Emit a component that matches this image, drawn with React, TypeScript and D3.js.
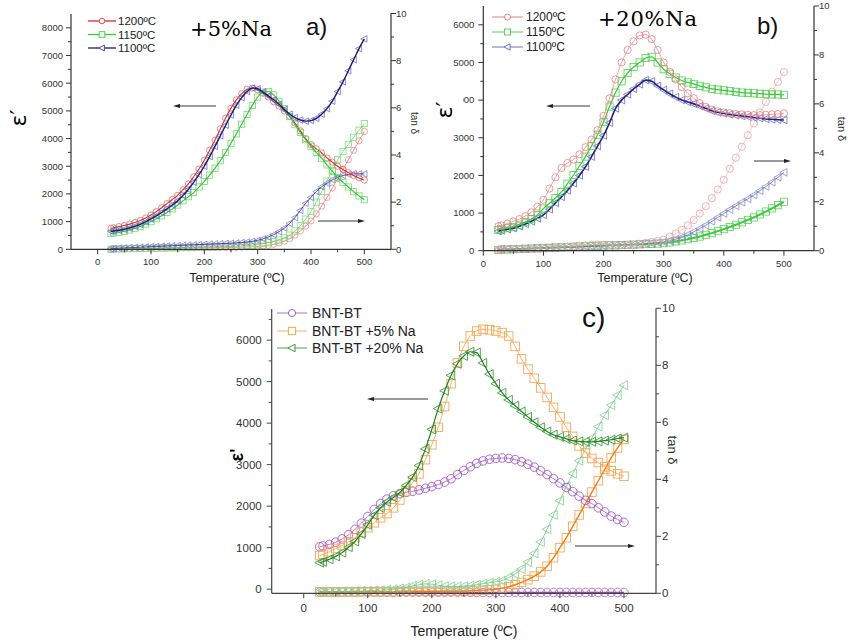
import React from "react";
import * as d3 from "d3";

// ---------- data ----------
const TEMPS = [25, 30, 40, 50, 60, 70, 80, 90, 100, 110, 120, 130, 140, 150, 160, 170, 180, 190, 200, 210, 220, 230, 240, 250, 260, 270, 280, 290, 300, 310, 320, 330, 340, 350, 360, 370, 380, 390, 400, 410, 420, 430, 440, 450, 460, 470, 480, 490, 500];

// panel a (+5% Na)
const A_EPS_1200 = [760, 780, 820, 860, 910, 970, 1040, 1130, 1240, 1360, 1500, 1650, 1800, 1950, 2150, 2360, 2620, 2900, 3220, 3580, 3950, 4350, 4740, 5100, 5400, 5620, 5780, 5820, 5760, 5640, 5500, 5330, 5170, 5000, 4800, 4560, 4280, 4000, 3780, 3630, 3480, 3300, 3150, 3000, 2880, 2770, 2670, 2580, 2500];
const A_EPS_1150 = [580, 590, 620, 650, 700, 760, 830, 910, 1000, 1100, 1210, 1330, 1460, 1600, 1750, 1900, 2050, 2250, 2450, 2680, 2930, 3200, 3500, 3830, 4170, 4520, 4870, 5200, 5500, 5680, 5700, 5580, 5350, 5080, 4800, 4500, 4220, 3960, 3720, 3500, 3290, 3050, 2820, 2600, 2420, 2250, 2080, 1930, 1790];
const A_EPS_1100 = [650, 660, 690, 720, 770, 830, 900, 990, 1100, 1210, 1330, 1460, 1600, 1750, 1940, 2160, 2420, 2700, 3000, 3350, 3720, 4100, 4480, 4850, 5200, 5480, 5700, 5830, 5800, 5680, 5540, 5400, 5240, 5050, 4880, 4760, 4670, 4630, 4650, 4730, 4880, 5080, 5350, 5700, 6050, 6450, 6850, 7250, 7600];
const A_TAN_1200 = [0.0, 0.01, 0.01, 0.02, 0.02, 0.03, 0.03, 0.03, 0.04, 0.04, 0.04, 0.05, 0.05, 0.05, 0.06, 0.06, 0.06, 0.07, 0.07, 0.07, 0.07, 0.08, 0.08, 0.08, 0.08, 0.09, 0.1, 0.11, 0.12, 0.14, 0.17, 0.21, 0.27, 0.35, 0.45, 0.6, 0.78, 0.98, 1.2, 1.5, 1.83, 2.2, 2.6, 3.0, 3.4, 3.8, 4.2, 4.6, 5.0];
const A_TAN_1150 = [0.0, 0.01, 0.02, 0.02, 0.03, 0.03, 0.04, 0.04, 0.05, 0.05, 0.06, 0.06, 0.07, 0.07, 0.08, 0.08, 0.09, 0.09, 0.1, 0.1, 0.11, 0.11, 0.12, 0.12, 0.13, 0.14, 0.16, 0.18, 0.2, 0.24, 0.28, 0.33, 0.4, 0.48, 0.6, 0.78, 1.0, 1.28, 1.6, 2.0, 2.45, 2.9, 3.35, 3.8, 4.15, 4.45, 4.75, 5.05, 5.33];
const A_TAN_1100 = [0.02, 0.03, 0.05, 0.06, 0.07, 0.08, 0.09, 0.1, 0.11, 0.12, 0.13, 0.14, 0.15, 0.16, 0.17, 0.18, 0.19, 0.2, 0.21, 0.22, 0.23, 0.24, 0.25, 0.26, 0.27, 0.29, 0.31, 0.34, 0.38, 0.44, 0.52, 0.62, 0.75, 0.9, 1.1, 1.35, 1.65, 1.95, 2.2, 2.45, 2.65, 2.8, 2.95, 3.05, 3.13, 3.18, 3.2, 3.2, 3.2];

// panel b (+20% Na)
const B_EPS_1200 = [650, 670, 720, 780, 840, 920, 1020, 1170, 1350, 1650, 1950, 2200, 2330, 2420, 2560, 2750, 2950, 3200, 3580, 4050, 4550, 5000, 5330, 5560, 5720, 5740, 5620, 5330, 5000, 4750, 4550, 4350, 4180, 4050, 3920, 3820, 3750, 3700, 3670, 3650, 3630, 3620, 3610, 3600, 3600, 3610, 3620, 3630, 3650];
const B_EPS_1150 = [550, 570, 600, 630, 690, 760, 840, 950, 1120, 1260, 1400, 1560, 1780, 2010, 2250, 2500, 2780, 3080, 3420, 3830, 4200, 4500, 4720, 4880, 5000, 5120, 5150, 5000, 4820, 4700, 4600, 4520, 4470, 4430, 4380, 4340, 4300, 4280, 4260, 4240, 4220, 4200, 4190, 4180, 4170, 4160, 4150, 4150, 4140];
const B_EPS_1100 = [520, 540, 570, 600, 650, 710, 780, 860, 950, 1100, 1270, 1430, 1600, 1790, 2000, 2230, 2500, 2780, 3060, 3400, 3780, 4000, 4150, 4300, 4420, 4530, 4500, 4380, 4270, 4170, 4080, 4000, 3950, 3900, 3840, 3780, 3720, 3680, 3650, 3620, 3600, 3580, 3560, 3540, 3520, 3500, 3490, 3480, 3470];
const B_TAN_1200 = [0.03, 0.04, 0.06, 0.07, 0.07, 0.08, 0.08, 0.09, 0.1, 0.11, 0.12, 0.14, 0.16, 0.18, 0.2, 0.22, 0.24, 0.25, 0.24, 0.23, 0.22, 0.22, 0.23, 0.25, 0.28, 0.32, 0.36, 0.4, 0.45, 0.57, 0.7, 0.85, 1.03, 1.25, 1.52, 1.82, 2.15, 2.5, 2.9, 3.35, 3.8, 4.25, 4.72, 5.2, 5.65, 6.08, 6.5, 6.9, 7.3];
const B_TAN_1150 = [0.03, 0.04, 0.05, 0.06, 0.07, 0.08, 0.09, 0.1, 0.11, 0.12, 0.13, 0.14, 0.15, 0.16, 0.17, 0.18, 0.19, 0.2, 0.21, 0.22, 0.22, 0.23, 0.24, 0.25, 0.26, 0.27, 0.28, 0.29, 0.31, 0.34, 0.38, 0.42, 0.47, 0.52, 0.58, 0.65, 0.72, 0.8, 0.88, 0.97, 1.06, 1.16, 1.26, 1.36, 1.48, 1.6, 1.73, 1.86, 2.0];
const B_TAN_1100 = [0.06, 0.06, 0.07, 0.07, 0.08, 0.08, 0.09, 0.09, 0.1, 0.11, 0.12, 0.13, 0.14, 0.15, 0.16, 0.17, 0.18, 0.19, 0.2, 0.21, 0.22, 0.23, 0.24, 0.25, 0.27, 0.29, 0.31, 0.33, 0.36, 0.41, 0.47, 0.55, 0.65, 0.77, 0.9, 1.04, 1.2, 1.36, 1.52, 1.68, 1.83, 1.98, 2.12, 2.28, 2.45, 2.62, 2.8, 3.0, 3.2];

// panel c (comparison)
const C_EPS_BNT = [1020, 1040, 1080, 1130, 1210, 1310, 1440, 1590, 1750, 1920, 2060, 2170, 2250, 2300, 2330, 2360, 2390, 2430, 2470, 2520, 2580, 2660, 2760, 2860, 2950, 3030, 3090, 3130, 3150, 3160, 3150, 3120, 3070, 3010, 2940, 2850, 2760, 2660, 2560, 2450, 2350, 2240, 2140, 2060, 1960, 1860, 1760, 1680, 1610];
const C_EPS_5NA = [810, 840, 900, 980, 1050, 1140, 1240, 1370, 1480, 1600, 1720, 1820, 1960, 2150, 2370, 2560, 2780, 3120, 3480, 3900, 4400, 4950, 5450, 5850, 6100, 6220, 6260, 6250, 6220, 6180, 6100, 5850, 5550, 5300, 5080, 4850, 4620, 4380, 4150, 3900, 3680, 3450, 3280, 3150, 3050, 2950, 2850, 2780, 2720];
const C_EPS_20NA = [640, 660, 720, 790, 880, 1010, 1150, 1330, 1550, 1780, 1960, 2100, 2210, 2330, 2500, 2700, 2980, 3380, 3850, 4350, 4780, 5150, 5430, 5620, 5720, 5700, 5450, 5180, 4950, 4730, 4560, 4420, 4280, 4150, 4020, 3900, 3800, 3720, 3670, 3620, 3580, 3560, 3550, 3550, 3560, 3580, 3600, 3630, 3650];
const C_TAN_BNT = [0.05, 0.05, 0.05, 0.05, 0.05, 0.05, 0.05, 0.05, 0.05, 0.04, 0.04, 0.04, 0.04, 0.04, 0.04, 0.04, 0.04, 0.04, 0.04, 0.04, 0.04, 0.04, 0.04, 0.04, 0.03, 0.03, 0.03, 0.03, 0.03, 0.03, 0.03, 0.03, 0.03, 0.03, 0.03, 0.03, 0.03, 0.03, 0.03, 0.03, 0.03, 0.03, 0.03, 0.03, 0.03, 0.03, 0.03, 0.03, 0.03];
const C_TAN_5NA = [0.05, 0.05, 0.05, 0.05, 0.05, 0.05, 0.05, 0.06, 0.06, 0.06, 0.06, 0.06, 0.06, 0.07, 0.07, 0.07, 0.07, 0.07, 0.07, 0.07, 0.08, 0.08, 0.08, 0.08, 0.09, 0.1, 0.11, 0.12, 0.14, 0.18, 0.23, 0.3, 0.38, 0.48, 0.6, 0.75, 0.95, 1.25, 1.6, 1.95, 2.35, 2.75, 3.15, 3.55, 3.95, 4.35, 4.75, 5.1, 5.4];
const C_TAN_20NA = [0.05, 0.05, 0.06, 0.06, 0.07, 0.07, 0.08, 0.08, 0.09, 0.1, 0.11, 0.12, 0.14, 0.17, 0.2, 0.26, 0.3, 0.33, 0.32, 0.28, 0.25, 0.24, 0.24, 0.25, 0.27, 0.3, 0.34, 0.37, 0.4, 0.45, 0.55, 0.68, 0.85, 1.1, 1.4, 1.8, 2.25, 2.75, 3.25, 3.75, 4.2, 4.65, 5.05, 5.45, 5.85, 6.25, 6.6, 6.95, 7.3];

// ticks and labels
const X_TICKS = [0, 100, 200, 300, 400, 500];
const A_EPS_TICKS = [0, 1000, 2000, 3000, 4000, 5000, 6000, 7000, 8000];
const B_EPS_TICKS = [0, 1000, 2000, 3000, 4000, 5000, 6000];
const C_EPS_TICKS = [0, 1000, 2000, 3000, 4000, 5000, 6000];
const TAN_TICKS = [0, 2, 4, 6, 8, 10];
const AB_LEGEND = ["1200ºC", "1150ºC", "1100ºC"];
const C_LEGEND = ["BNT-BT", "BNT-BT +5% Na", "BNT-BT +20% Na"];
const X_TITLE = "Temperature (ºC)";

type Shape = "circle" | "square" | "tri";
type Ser = { v: number[]; axis: "L" | "R"; shape: Shape; mk: string; ln: string; lw: number };

const SANS = "'Liberation Sans', Arial, sans-serif";

function Marker(p: { shape: Shape; x: number; y: number; s: number; stroke: string; fill: string; sw: number }) {
  const { shape, x, y, s, stroke, fill, sw } = p;
  if (shape === "circle") return <circle cx={x} cy={y} r={s} fill={fill} stroke={stroke} strokeWidth={sw} />;
  if (shape === "square") return <rect x={x - s} y={y - s} width={2 * s} height={2 * s} fill={fill} stroke={stroke} strokeWidth={sw} />;
  return <polygon points={`${x - s * 1.15},${y} ${x + s * 0.85},${y - s * 1.05} ${x + s * 0.85},${y + s * 1.05}`} fill={fill} stroke={stroke} strokeWidth={sw} />;
}

type Cfg = {
  left: number; right: number; bottom: number; top: number; topR: number; bottomR: number;
  xDom: [number, number]; yDom: [number, number]; yTicks: number[];
  tickFont: number; axisColor: string; ms: number; msw: number;
  series: Ser[];
  xLabelDy: number; yLabelDx: number; rLabelDx: number;
};

function Panel({ c }: { c: Cfg }) {
  const x = d3.scaleLinear().domain(c.xDom).range([c.left, c.right]);
  const yL = d3.scaleLinear().domain(c.yDom).range([c.bottom, c.top]);
  const yR = d3.scaleLinear().domain([0, 10]).range([c.bottomR, c.topR]);
  const xMinor = d3.range(X_TICKS[0] - 50, X_TICKS[X_TICKS.length - 1] + 51, 100).filter((t) => t > c.xDom[0] && t < c.xDom[1]);
  const yStep = c.yTicks[1] - c.yTicks[0];
  const yMinor = c.yTicks.map((t) => t + yStep / 2).filter((t) => t < c.yDom[1]);
  const rMinor = TAN_TICKS.slice(0, -1).map((t) => t + 1);
  const line = (ys: d3.ScaleLinear<number, number>) =>
    d3.line<number>().x((_, i) => x(TEMPS[i])).y((d) => ys(d)).curve(d3.curveMonotoneX);
  const ax = c.axisColor;
  return (
    <g>
      {c.series.map((s, k) => {
        const ys = s.axis === "L" ? yL : yR;
        return (
          <g key={k}>
            {s.v.map((d, i) => (
              <Marker key={i} shape={s.shape} x={x(TEMPS[i])} y={ys(d)} s={c.ms} stroke={s.mk} fill="none" sw={c.msw} />
            ))}
            <path d={line(ys)(s.v) || ""} fill="none" stroke={s.ln} strokeWidth={s.lw} />
          </g>
        );
      })}
      {/* axes */}
      <line x1={c.left} x2={c.right} y1={c.bottom} y2={c.bottom} stroke={ax} strokeWidth={1.2} />
      <line x1={c.left} x2={c.left} y1={c.bottom} y2={c.top} stroke={ax} strokeWidth={1.2} />
      <line x1={c.right} x2={c.right} y1={c.bottomR} y2={c.topR} stroke={ax} strokeWidth={1.2} />
      {X_TICKS.map((t) => (
        <g key={"x" + t}>
          <line x1={x(t)} x2={x(t)} y1={c.bottom} y2={c.bottom + 5} stroke={ax} />
          <text x={x(t)} y={c.bottom + c.xLabelDy} fontSize={c.tickFont} fontFamily={SANS} fill="#333" textAnchor="middle">{t}</text>
        </g>
      ))}
      {xMinor.map((t) => (
        <line key={"xm" + t} x1={x(t)} x2={x(t)} y1={c.bottom} y2={c.bottom + 3} stroke={ax} />
      ))}
      {c.yTicks.map((t) => (
        <g key={"y" + t}>
          <line x1={c.left - 5} x2={c.left} y1={yL(t)} y2={yL(t)} stroke={ax} />
          <text x={c.left - c.yLabelDx} y={yL(t)} dy="0.35em" fontSize={c.tickFont} fontFamily={SANS} fill="#333" textAnchor="end">{t}</text>
        </g>
      ))}
      {yMinor.map((t) => (
        <line key={"ym" + t} x1={c.left - 3} x2={c.left} y1={yL(t)} y2={yL(t)} stroke={ax} />
      ))}
      {TAN_TICKS.map((t) => (
        <g key={"r" + t}>
          <line x1={c.right} x2={c.right + 5} y1={yR(t)} y2={yR(t)} stroke={ax} />
          <text x={c.right + c.rLabelDx} y={yR(t)} dy="0.35em" fontSize={c.tickFont} fontFamily={SANS} fill="#333">{t}</text>
        </g>
      ))}
      {rMinor.map((t) => (
        <line key={"rm" + t} x1={c.right} x2={c.right + 3} y1={yR(t)} y2={yR(t)} stroke={ax} />
      ))}
    </g>
  );
}

function Arrow({ x1, x2, y }: { x1: number; x2: number; y: number }) {
  const dir = x2 > x1 ? 1 : -1;
  return (
    <g>
      <line x1={x1} x2={x2 - dir * 5} y1={y} y2={y} stroke="#222" strokeWidth={0.9} />
      <polygon points={`${x2},${y} ${x2 - dir * 7},${y - 2} ${x2 - dir * 7},${y + 2}`} fill="#222" />
    </g>
  );
}

function Legend({ x0, x1, tx, rows, labels, shapes, mk, ln, s, font }: {
  x0: number; x1: number; tx: number; rows: number[]; labels: string[]; shapes: Shape[]; mk: string[]; ln: string[]; s: number; font: number;
}) {
  return (
    <g>
      {labels.map((lab, i) => (
        <g key={lab}>
          <line x1={x0} x2={x1} y1={rows[i]} y2={rows[i]} stroke={ln[i]} strokeWidth={1.3} />
          <Marker shape={shapes[i]} x={(x0 + x1) / 2} y={rows[i]} s={s} stroke={mk[i]} fill="#fff" sw={1} />
          <text x={tx} y={rows[i]} dy="0.36em" fontSize={font} fontFamily={SANS} fill="#222">{lab}</text>
        </g>
      ))}
    </g>
  );
}

export default function App() {
  const cfgA: Cfg = {
    left: 71, right: 391, bottom: 249.3, top: 14, topR: 13.5, bottomR: 249.3,
    xDom: [-50, 550], yDom: [0, 8500], yTicks: A_EPS_TICKS, tickFont: 9.5, axisColor: "#333",
    ms: 3.1, msw: 0.8, xLabelDy: 16, yLabelDx: 8, rLabelDx: 5,
    series: [
      { v: A_TAN_1200, axis: "R", shape: "circle", mk: "#ec8a8a", ln: "#e06a6a", lw: 0.7 },
      { v: A_TAN_1150, axis: "R", shape: "square", mk: "#80e080", ln: "#50d050", lw: 0.7 },
      { v: A_TAN_1100, axis: "R", shape: "tri", mk: "#8080cc", ln: "#3a3a90", lw: 0.9 },
      { v: A_EPS_1200, axis: "L", shape: "circle", mk: "#e66a6a", ln: "#c83030", lw: 1.1 },
      { v: A_EPS_1150, axis: "L", shape: "square", mk: "#6fdc6f", ln: "#35c035", lw: 1.1 },
      { v: A_EPS_1100, axis: "L", shape: "tri", mk: "#6e6ec6", ln: "#1b1b6b", lw: 1.4 },
    ],
  };
  const cfgB: Cfg = {
    left: 483.3, right: 814, bottom: 250.7, top: 6, topR: 6, bottomR: 250.7,
    xDom: [0, 550], yDom: [0, 6500], yTicks: B_EPS_TICKS, tickFont: 9.5, axisColor: "#333",
    ms: 3.6, msw: 0.8, xLabelDy: 16, yLabelDx: 9, rLabelDx: 5,
    series: [
      { v: B_TAN_1150, axis: "R", shape: "square", mk: "#58d058", ln: "#3cc83c", lw: 2 },
      { v: B_TAN_1100, axis: "R", shape: "tri", mk: "#8a8acc", ln: "#6a6ab8", lw: 0.8 },
      { v: B_TAN_1200, axis: "R", shape: "circle", mk: "#eea0a0", ln: "#f0b0b0", lw: 0.6 },
      { v: B_EPS_1100, axis: "L", shape: "tri", mk: "#6a6abc", ln: "#1e1e86", lw: 1.6 },
      { v: B_EPS_1150, axis: "L", shape: "square", mk: "#52cf52", ln: "#3cc83c", lw: 1.2 },
      { v: B_EPS_1200, axis: "L", shape: "circle", mk: "#e37d7d", ln: "#e88a8a", lw: 0.8 },
    ],
  };
  const cfgC: Cfg = {
    left: 271.7, right: 656, bottom: 593.3, top: 309, topR: 308.3, bottomR: 593.3,
    xDom: [-50, 550], yDom: [-100, 6750], yTicks: C_EPS_TICKS, tickFont: 11.5, axisColor: "#444",
    ms: 4.3, msw: 0.9, xLabelDy: 19, yLabelDx: 10, rLabelDx: 6,
    series: [
      { v: C_TAN_BNT, axis: "R", shape: "circle", mk: "#b070d0", ln: "#9a4dbd", lw: 1.2 },
      { v: C_TAN_5NA, axis: "R", shape: "square", mk: "#f7a655", ln: "#f07d10", lw: 1.4 },
      { v: C_TAN_20NA, axis: "R", shape: "tri", mk: "#8ad69a", ln: "#70c880", lw: 0.8 },
      { v: C_EPS_BNT, axis: "L", shape: "circle", mk: "#a55ac8", ln: "#a55ac8", lw: 0.8 },
      { v: C_EPS_5NA, axis: "L", shape: "square", mk: "#f7a655", ln: "#f5a050", lw: 0.8 },
      { v: C_EPS_20NA, axis: "L", shape: "tri", mk: "#3d9b3d", ln: "#1f7f1f", lw: 1.2 },
    ],
  };

  return (
    <svg width={848} height={640} style={{ position: "absolute", left: 0, top: 0, background: "#fff" }}>
      <rect x={0} y={0} width={848} height={640} fill="#fff" />
      <Panel c={cfgA} />
      <Panel c={cfgB} />
      <Panel c={cfgC} />

      {/* legends */}
      <Legend x0={88} x1={116} tx={118} rows={[21, 34.5, 48]} labels={AB_LEGEND} shapes={["circle", "square", "tri"]}
        mk={["#e05050", "#50d050", "#4a4aa8"]} ln={["#d02a2a", "#3cc83c", "#1b1b6b"]} s={2.8} font={11.5} />
      <Legend x0={492} x1={523} tx={526} rows={[17, 32, 47]} labels={AB_LEGEND} shapes={["circle", "square", "tri"]}
        mk={["#e08080", "#60d060", "#7070c0"]} ln={["#e8a0a0", "#80d880", "#9090cc"]} s={3} font={12} />
      <Legend x0={277} x1={307} tx={312} rows={[313, 331, 348]} labels={C_LEGEND} shapes={["circle", "square", "tri"]}
        mk={["#a55ac8", "#f7a655", "#3d9b3d"]} ln={["#c090dc", "#f8c088", "#70b870"]} s={3.6} font={14} />

      {/* titles */}
      <text x={190} y={36} fontSize={21} fontFamily="'DejaVu Serif', serif" textLength={82} fill="#000">+5%Na</text>
      <text x={598} y={26} fontSize={21} fontFamily="'DejaVu Serif', serif" textLength={99} fill="#000">+20%Na</text>
      <text x={306} y={35} fontSize={24} fontFamily={SANS} fill="#111">a)</text>
      <text x={757} y={34} fontSize={24} fontFamily={SANS} fill="#111">b)</text>
      <text x={582} y={327} fontSize={28} fontFamily={SANS} fill="#111">c)</text>

      {/* axis titles */}
      <text x={237} y={282} fontSize={12.5} fontFamily={SANS} fill="#222" textAnchor="middle">{X_TITLE}</text>
      <text x={645} y={282} fontSize={12.5} fontFamily={SANS} fill="#222" textAnchor="middle">{X_TITLE}</text>
      <text x={464} y={636} fontSize={14} fontFamily={SANS} fill="#222" textAnchor="middle">{X_TITLE}</text>

      <text transform="translate(26,118) rotate(-90)" fontSize={22} fontFamily="'DejaVu Sans', sans-serif" textAnchor="middle" fill="#000">ε′</text>
      <rect x={432} y={92} width={31} height={34} fill="#fff" />
      <text transform="translate(452,110) rotate(-90)" fontSize={22} fontFamily="'DejaVu Sans', sans-serif" textAnchor="middle" fill="#000">ε′</text>
      <text transform="translate(243,455) rotate(-90)" fontSize={18} fontWeight="bold" fontFamily={SANS} textAnchor="middle" fill="#000">ε'</text>

      <text transform="translate(411,123) rotate(90)" fontSize={10} fontFamily={SANS} textAnchor="middle" fill="#333">tan δ</text>
      <text transform="translate(838,129) rotate(90)" fontSize={11} fontFamily={SANS} textAnchor="middle" fill="#333">tan δ</text>
      <text transform="translate(668,450) rotate(90)" fontSize={13} fontFamily={SANS} textAnchor="middle" fill="#333">tan δ</text>

      {/* arrows */}
      <Arrow x1={216} x2={173} y={106} />
      <Arrow x1={318} x2={365} y={221} />
      <Arrow x1={590} x2={546} y={106} />
      <Arrow x1={754} x2={791} y={161} />
      <Arrow x1={428} x2={367} y={399} />
      <Arrow x1={575} x2={635} y={546} />
    </svg>
  );
}
